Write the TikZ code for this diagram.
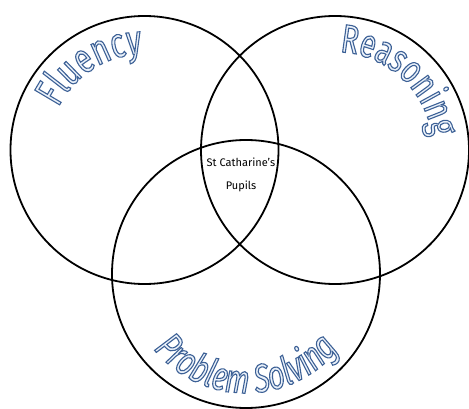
\documentclass[tikz,border=0pt]{standalone}
\usepackage{fontspec}
\setmainfont{Fira Sans}
\newfontfamily\labelfont[FakeStretch=0.72]{Fira Sans}
\usetikzlibrary{decorations.text}
\definecolor{labelblue}{RGB}{62,96,150}
\definecolor{labelfill}{RGB}{234,241,250}

% outlined glyphs: fill with the text colour, stroke in blue
\newcommand{\outlinetext}{\special{pdf:literal direct 2 Tr 1.1 w 0.24 0.38 0.59 RG}}
\newcommand{\plaintext}{\special{pdf:literal direct 0 Tr}}

\tikzset{
  vennset/.style={draw=black, line width=1.8pt, circle, minimum size=268pt, inner sep=0pt},
  setlabel/.style={decorate, decoration={text along path, text align=center, text color=labelfill}},
}

\begin{document}
\begin{tikzpicture}[x=1pt, y=1pt]
  \useasboundingbox (0,0) rectangle (469,408);
  \node[vennset] (fluency) at (144.5,258) {};
  \node[vennset] (reasoning) at (335,258) {};
  \node[vennset] (solving) at (246,134) {};
  % labels round the rims
  \path[setlabel, decoration={text={|\labelfont\fontsize{42}{46}\selectfont\outlinetext|Fluency}}]
    (fluency.center) ++(165:96) arc[start angle=165, end angle=80, radius=96];
  \path[setlabel, decoration={text={|\labelfont\fontsize{40}{44}\selectfont\outlinetext|Reasoning}}]
    (reasoning.center) ++(100:98) arc[start angle=100, end angle=-5, radius=98];
  \path[setlabel, decoration={text={|\labelfont\itshape\fontsize{40}{44}\selectfont\outlinetext|Problem Solving}}]
    (solving.center) ++(212:119) arc[start angle=212, end angle=328, radius=119];
  \node[align=center, font=\fontsize{11}{23}\selectfont] (pupils) at (241,233) {\plaintext St Catharine's\\Pupils};
\end{tikzpicture}
\end{document}
